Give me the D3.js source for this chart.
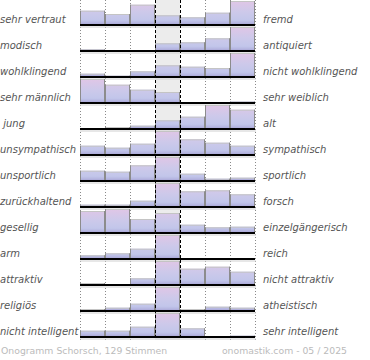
<!DOCTYPE html>
<html><head><meta charset="utf-8">
<script src="https://cdn.jsdelivr.net/npm/d3@7"></script>
<style>
html,body{margin:0;padding:0;background:#fff;}
svg{display:block;}
text{font-family:"DejaVu Sans",sans-serif;}
</style></head>
<body><svg id="c" width="370" height="360"></svg>
<script>
const leftLabels = ["sehr vertraut","modisch","wohlklingend","sehr männlich"," jung","unsympathisch","unsportlich","zurückhaltend","gesellig","arm","attraktiv","religiös","nicht intelligent"];
const rightLabels = ["fremd","antiquiert","nicht wohlklingend","sehr weiblich","alt","sympathisch","sportlich","forsch","einzelgängerisch","reich","nicht attraktiv","atheistisch","sehr intelligent"];
const values = [
  [14.3, 11, 20.3, 9.7, 7.7, 12.3, 24],
  [1.7, 0, 0, 7.7, 8.7, 12.7, 24],
  [3.3, 1.3, 5.7, 11.7, 10.3, 9, 24],
  [24, 18.3, 13.3, 11, 0, 0, 1.5],
  [0, 2, 3.3, 8.7, 12.3, 24, 19.3],
  [9.3, 7.3, 11.3, 24, 15.7, 12.3, 9.3],
  [10.3, 9.3, 15.7, 24, 7.3, 2.3, 3.3],
  [2.3, 2.3, 6.3, 24, 15.7, 16.7, 12.7],
  [22, 24, 14, 20, 8.3, 5.7, 6.3],
  [3.7, 5.7, 10.3, 24, 0, 0, 0],
  [2, 0, 6.7, 24, 16.3, 18.3, 13.3],
  [2, 3.3, 7.3, 24, 2, 4.3, 3.3],
  [6.3, 6.3, 10.3, 24, 8.7, 0, 1.3]
];
const columns = [0,1,2,3,4,5,6];
const footerLeft = "Onogramm Schorsch, 129 Stimmen";
const footerRight = "onomastik.com - 05 / 2025";

const svg = d3.select("#c");
const x = d3.scaleBand().domain(columns).range([80,255]).paddingInner(0).paddingOuter(0);
const rowY = d3.scaleBand().domain(d3.range(leftLabels.length)).range([-1, -1 + 26*leftLabels.length]);
const barH = 24;
const baseline = i => rowY(i) + rowY.bandwidth();
const plotBottom = 340;

// gradients per row
const defs = svg.append("defs");
leftLabels.forEach((_, i) => {
  const g = defs.append("linearGradient").attr("id","g"+i)
    .attr("gradientUnits","userSpaceOnUse")
    .attr("x1",0).attr("x2",0).attr("y1", baseline(i)-barH).attr("y2", baseline(i));
  g.append("stop").attr("offset","0").attr("stop-color","#e0c6e6");
  g.append("stop").attr("offset","0.45").attr("stop-color","#cdc9ea");
  g.append("stop").attr("offset","0.8").attr("stop-color","#c2c6ea");
  g.append("stop").attr("offset","0.93").attr("stop-color","#b3b3df");
  g.append("stop").attr("offset","1").attr("stop-color","#9a8cc4");
});

// middle column background
svg.append("rect").attr("x", x(3)).attr("y", 0).attr("width", x.bandwidth()).attr("height", plotBottom)
  .attr("fill","#ececec");

// dotted grid lines
const bounds = [0,1,2,5,6,7].map(k => 80 + k*x.bandwidth());
svg.selectAll("line.dot").data(bounds).enter().append("line")
  .attr("x1", d=>d+0.5).attr("x2", d=>d+0.5).attr("y1",0).attr("y2",plotBottom)
  .attr("stroke","#8a8a8a").attr("stroke-width",1).attr("stroke-dasharray","1,2");

// bars
const rows = svg.selectAll("g.row").data(values).enter().append("g").attr("class","row");
rows.each(function(row, i){
  const g = d3.select(this);
  const h = d3.scaleLinear().domain([0, d3.max(row)]).range([0, barH]);
  const b = baseline(i);
  row.forEach((v, j) => {
    const hh = h(v);
    if (hh <= 0.01) return;
    const x0 = x(j), x1 = x(j) + x.bandwidth();
    g.append("rect").attr("x", x0).attr("y", b - hh).attr("width", x.bandwidth()).attr("height", hh)
      .attr("fill", `url(#g${i})`);
    g.append("line").attr("x1", x0).attr("x2", x1).attr("y1", b-hh+0.5).attr("y2", b-hh+0.5)
      .attr("stroke","#c4c4c4").attr("stroke-width",1);
    g.append("line").attr("x1", x0+0.5).attr("x2", x0+0.5).attr("y1", b-hh).attr("y2", b)
      .attr("stroke","#8c8c8c").attr("stroke-width",1);
    g.append("line").attr("x1", x1-0.5).attr("x2", x1-0.5).attr("y1", b-hh).attr("y2", b)
      .attr("stroke","#8c8c8c").attr("stroke-width",1);
  });
  // baseline + shadow
  g.append("line").attr("x1",80).attr("x2",256).attr("y1", b+2).attr("y2", b+2)
    .attr("stroke","#cfcfcf").attr("stroke-width",1.2);
  g.append("line").attr("x1",80).attr("x2",255).attr("y1", b).attr("y2", b)
    .attr("stroke","#000").attr("stroke-width",2);
});

// dashed middle lines
[155,180].forEach(xx => {
  svg.append("line").attr("x1", xx+0.5).attr("x2", xx+0.5).attr("y1",0).attr("y2",plotBottom)
    .attr("stroke","#000").attr("stroke-width",1).attr("stroke-dasharray","3,2");
});

// labels
svg.selectAll("text.l").data(leftLabels).enter().append("text")
  .attr("x", 0).attr("y", (d,i)=>baseline(i)-2)
  .attr("font-size", 10).attr("font-style","italic").attr("fill","#555")
  .style("white-space","pre").text(d=>d);
svg.selectAll("text.r").data(rightLabels).enter().append("text")
  .attr("x", 263).attr("y", (d,i)=>baseline(i)-2)
  .attr("font-size", 10).attr("font-style","italic").attr("fill","#555")
  .text(d=>d);

// footer
svg.append("text").attr("x",1).attr("y",354).attr("font-size",9.3).attr("fill","#bbb").text(footerLeft);
svg.append("text").attr("x",347).attr("y",354).attr("font-size",9.3).attr("fill","#bbb")
  .attr("text-anchor","end").text(footerRight);
</script>
</body></html>
